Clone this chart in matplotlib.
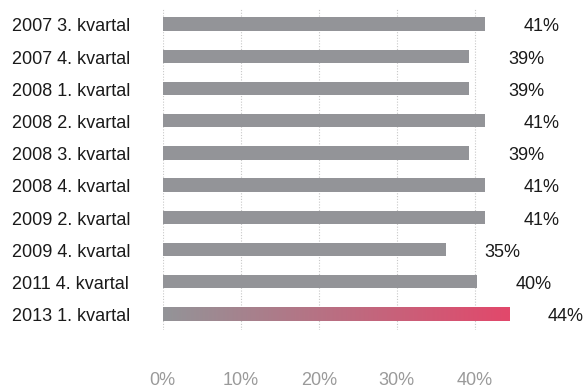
import numpy as np
import matplotlib.pyplot as plt
from matplotlib.transforms import blended_transform_factory
from matplotlib.colors import LinearSegmentedColormap

categories = [
    "2007 3. kvartal", "2007 4. kvartal", "2008 1. kvartal", "2008 2. kvartal",
    "2008 3. kvartal", "2008 4. kvartal", "2009 2. kvartal", "2009 4. kvartal",
    "2011 4. kvartal", "2013 1. kvartal",
]
bar_values = [41.3, 39.3, 39.3, 41.3, 39.3, 41.3, 41.3, 36.3, 40.3, 44.4]
value_labels = ["41%", "39%", "39%", "41%", "39%", "41%", "41%", "35%", "40%", "44%"]
x_ticks = [0, 10, 20, 30, 40]
x_ticklabels = ["0%", "10%", "20%", "30%", "40%"]

GRAY = "#939498"
PINK = "#e2486b"

plt.rcParams["font.family"] = ["Liberation Sans", "DejaVu Sans"]

W, H = 584, 390
fig = plt.figure(figsize=(W / 100, H / 100), dpi=100)
ax = fig.add_axes([162.7 / W, 60 / H, 390 / W, 322 / H])

y = np.arange(len(categories))
height = 0.42
ax.barh(y[:-1], bar_values[:-1], height=height, color=GRAY, zorder=2)

# last bar: gradient gray -> pink
cmap = LinearSegmentedColormap.from_list("hl", [GRAY, PINK])
last = bar_values[-1]
grad = np.linspace(0, 1, 256).reshape(1, -1)
ax.imshow(grad, cmap=cmap, aspect="auto", zorder=2,
          extent=(0, last, y[-1] + height / 2, y[-1] - height / 2))

ax.set_xlim(0, 50)
ax.set_ylim(len(categories) - 0.5, -0.5)

ax.set_xticks(x_ticks)
ax.set_xticklabels(x_ticklabels, color="#9a9a9a", fontsize=13)
ax.tick_params(axis="x", length=0, pad=30)
ax.set_yticks([])
ax.grid(axis="x", linestyle=(0, (1, 1.5)), color="#c8c8c8", linewidth=0.8, zorder=0)
for s in ax.spines.values():
    s.set_visible(False)

trans = blended_transform_factory(fig.transFigure, ax.transData)
for yi, cat in zip(y, categories):
    ax.annotate(cat, (12 / W, yi), xycoords=trans, xytext=(0, -5.3),
                textcoords="offset points", ha="left", va="baseline",
                fontsize=13, color="#1a1a1a", annotation_clip=False)

for yi, v, lab in zip(y, bar_values, value_labels):
    ax.annotate(lab, (v, yi), xytext=(28, -5.2), textcoords="offset points",
                ha="left", va="baseline", fontsize=13, color="#1a1a1a",
                annotation_clip=False)

fig.savefig("out.png", dpi=100)
